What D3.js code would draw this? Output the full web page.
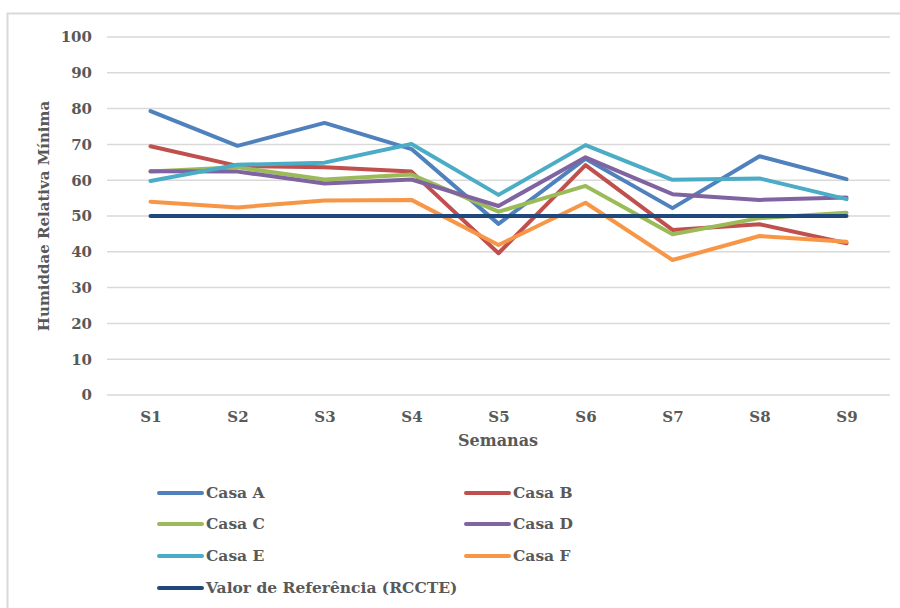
<!DOCTYPE html>
<html>
<head>
<meta charset="utf-8">
<script src="https://cdn.jsdelivr.net/npm/d3@7"></script>
<style>
  body { margin: 0; background: #fff; }
  text { font-family: "DejaVu Serif", Georgia, serif; font-weight: bold; fill: #595959; }
</style>
</head>
<body>
<div id="chart"></div>
<script>
// semanas e valores
const semanas = ["S1", "S2", "S3", "S4", "S5", "S6", "S7", "S8", "S9"];
const yTicks = [0, 10, 20, 30, 40, 50, 60, 70, 80, 90, 100];

const casaA = [79.3, 69.6, 76.0, 68.7, 47.8, 66.0, 52.2, 66.7, 60.3];
const casaB = [69.5, 64.0, 63.6, 62.4, 39.6, 64.2, 46.1, 47.7, 42.4];
const casaC = [62.4, 63.6, 60.2, 61.6, 51.2, 58.4, 44.9, 49.4, 50.9];
const casaD = [62.5, 62.4, 59.1, 60.2, 52.8, 66.4, 56.1, 54.5, 55.2];
const casaE = [59.8, 64.3, 64.9, 70.1, 55.9, 69.8, 60.1, 60.5, 54.7];
const casaF = [54.0, 52.4, 54.3, 54.5, 41.9, 53.7, 37.7, 44.4, 42.8];
const referencia = [50, 50, 50, 50, 50, 50, 50, 50, 50];

const seriesNames = ["Casa A", "Casa B", "Casa C", "Casa D", "Casa E", "Casa F", "Valor de Referência (RCCTE)"];
const seriesColors = ["#4f81bd", "#c0504d", "#9bbb59", "#8064a2", "#4bacc6", "#f79646", "#1f497d"];
const seriesValues = [casaA, casaB, casaC, casaD, casaE, casaF, referencia];

const width = 900, height = 608;
const margin = {top: 37, right: 10, bottom: 213, left: 107};
const innerW = 890 - margin.left;
const innerH = 395 - margin.top;

const svg = d3.select("#chart").append("svg")
    .attr("width", width)
    .attr("height", height);

// moldura do gráfico
svg.append("path")
    .attr("d", "M7.5," + height + "V13.5H" + width)
    .attr("fill", "none")
    .attr("stroke", "#d9d9d9")
    .attr("stroke-width", 2);

const g = svg.append("g")
    .attr("transform", "translate(" + margin.left + "," + margin.top + ")");

const x = d3.scalePoint()
    .domain(semanas)
    .range([0, innerW])
    .padding(0.5);

const y = d3.scaleLinear()
    .domain([0, 100])
    .range([innerH, 0]);

// grelha horizontal
g.append("g")
    .selectAll("line")
    .data(yTicks)
    .join("line")
    .attr("x1", 0)
    .attr("x2", innerW)
    .attr("y1", d => y(d))
    .attr("y2", d => y(d))
    .attr("stroke", "#d9d9d9")
    .attr("stroke-width", 1.5);

// eixo y
const yAxis = d3.axisLeft(y).tickValues(yTicks).tickSize(0).tickPadding(15);
g.append("g")
    .attr("class", "y-axis")
    .call(yAxis)
    .call(a => a.select(".domain").remove())
    .selectAll("text")
    .style("font-size", "15px")
    .attr("fill", "#595959");

// eixo x
const xAxis = d3.axisBottom(x).tickSize(0).tickPadding(16);
g.append("g")
    .attr("class", "x-axis")
    .attr("transform", "translate(0," + innerH + ")")
    .call(xAxis)
    .call(a => a.select(".domain").remove())
    .selectAll("text")
    .style("font-size", "15px")
    .attr("fill", "#595959");

// títulos dos eixos
svg.append("text")
    .attr("x", 498)
    .attr("y", 446)
    .attr("text-anchor", "middle")
    .style("font-size", "16px")
    .text("Semanas");

svg.append("text")
    .attr("transform", "translate(49,216) rotate(-90)")
    .attr("text-anchor", "middle")
    .style("font-size", "15px")
    .text("Humiddae Relativa Mínima");

// linhas (ordem das séries, referência por cima)
const line = d3.line()
    .x((d, i) => x(semanas[i]))
    .y(d => y(d));

g.selectAll(".serie")
    .data(seriesValues)
    .join("path")
    .attr("class", "serie")
    .attr("d", d => line(d))
    .attr("fill", "none")
    .attr("stroke", (d, i) => seriesColors[i])
    .attr("stroke-width", 4)
    .attr("stroke-linejoin", "round")
    .attr("stroke-linecap", "round");

// legenda
const legX = [159, 466];
const legY = [493, 524, 556, 588];
const legend = svg.append("g")
    .selectAll("g")
    .data(seriesNames)
    .join("g")
    .attr("transform", (d, i) => "translate(" + legX[i % 2] + "," + legY[Math.floor(i / 2)] + ")");

legend.append("line")
    .attr("x1", 0)
    .attr("x2", 43)
    .attr("stroke", (d, i) => seriesColors[i])
    .attr("stroke-width", 4)
    .attr("stroke-linecap", "round");

legend.append("text")
    .attr("x", 47)
    .attr("dy", "0.35em")
    .style("font-size", "15.5px")
    .text(d => d);
</script>
</body>
</html>
